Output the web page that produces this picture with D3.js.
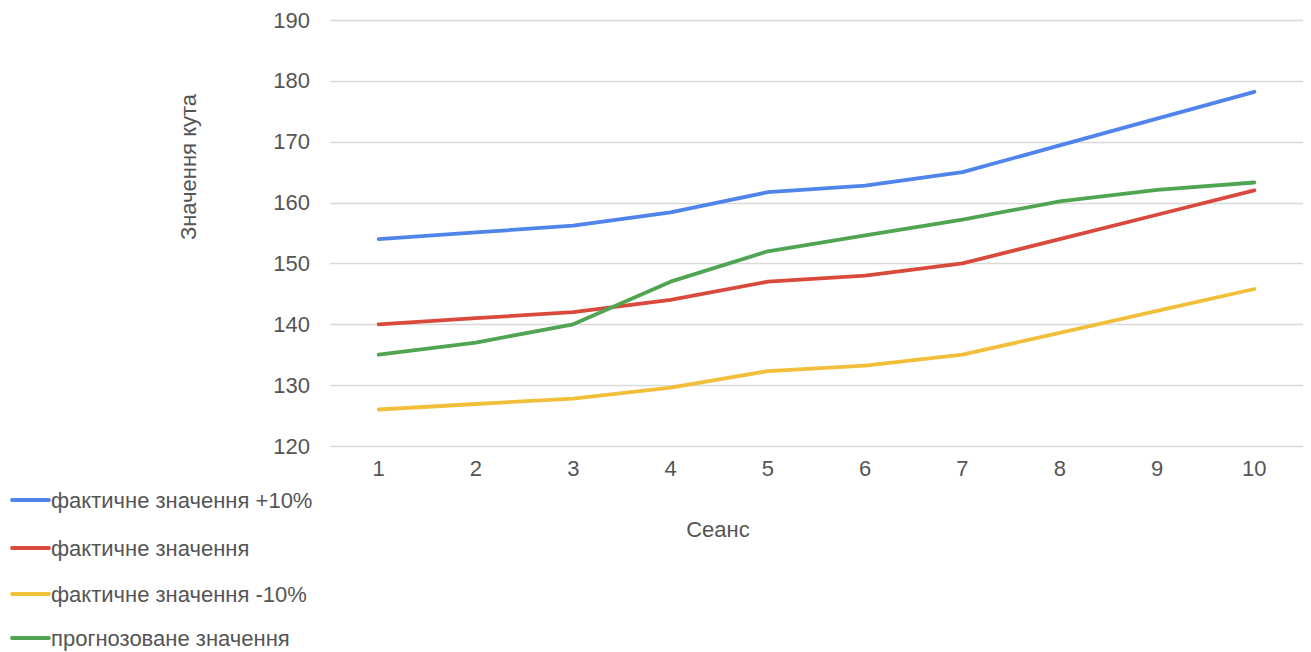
<!DOCTYPE html>
<html>
<head>
<meta charset="utf-8">
<script src="https://cdn.jsdelivr.net/npm/d3@7"></script>
<style>
  html, body { margin: 0; padding: 0; background: #fff; }
  svg { display: block; font-family: "Liberation Sans", Arial, sans-serif; }
</style>
</head>
<body>
<svg id="chart" width="1311" height="652"></svg>
<script>
// Sessions (x categories)
const sessions = [1, 2, 3, 4, 5, 6, 7, 8, 9, 10];

// Angle values per session
const actualPlus10 = [154, 155.1, 156.2, 158.4, 161.7, 162.8, 165, 169.4, 173.8, 178.2];
const actual       = [140, 141, 142, 144, 147, 148, 150, 154, 158, 162];
const actualMinus10 = [126, 126.9, 127.8, 129.6, 132.3, 133.2, 135, 138.6, 142.2, 145.8];
const forecast     = [135, 137, 140, 147, 152, 154.6, 157.2, 160.2, 162.1, 163.3];

const seriesNames = ["фактичне значення +10%", "фактичне значення", "фактичне значення -10%", "прогнозоване значення"];
const seriesColors = ["#4f84ea", "#da4a3c", "#f2bf3b", "#50a553"];
const seriesValues = [actualPlus10, actual, actualMinus10, forecast];

const yTicks = [120, 130, 140, 150, 160, 170, 180, 190];

const svg = d3.select("#chart");
const textColor = "#555555";
const fontSize = 22;

const plot = { left: 330, right: 1303, top: 20, bottom: 446 };

const x = d3.scaleBand()
  .domain(sessions)
  .range([plot.left, plot.right]);

const y = d3.scaleLinear()
  .domain([120, 190])
  .range([plot.bottom, plot.top]);

// Horizontal gridlines
svg.append("g")
  .selectAll("line")
  .data(yTicks)
  .join("line")
  .attr("x1", plot.left)
  .attr("x2", plot.right)
  .attr("y1", d => Math.round(y(d)) + 0.5)
  .attr("y2", d => Math.round(y(d)) + 0.5)
  .attr("stroke", "#d9d9d9")
  .attr("stroke-width", 1.3);

// Y axis labels
const yAxis = d3.axisLeft(y).tickValues(yTicks).tickSize(0).tickPadding(20);
const gy = svg.append("g")
  .attr("transform", `translate(${plot.left},0)`)
  .call(yAxis);
gy.select(".domain").remove();
gy.selectAll("text")
  .attr("fill", textColor)
  .attr("font-size", fontSize)
  .attr("font-family", "Liberation Sans, Arial, sans-serif");

// X axis labels
const xAxis = d3.axisBottom(x).tickSize(0).tickPadding(14);
const gx = svg.append("g")
  .attr("transform", `translate(0,${plot.bottom})`)
  .call(xAxis);
gx.select(".domain").remove();
gx.selectAll("text")
  .attr("fill", textColor)
  .attr("font-size", fontSize)
  .attr("font-family", "Liberation Sans, Arial, sans-serif");

// Axis titles
svg.append("text")
  .attr("x", 718)
  .attr("y", 537)
  .attr("text-anchor", "middle")
  .attr("fill", textColor)
  .attr("font-size", fontSize)
  .text("Сеанс");

svg.append("text")
  .attr("transform", "translate(196,167) rotate(-90)")
  .attr("text-anchor", "middle")
  .attr("fill", textColor)
  .attr("font-size", fontSize)
  .text("Значення кута");

// Series lines
const line = d3.line()
  .x((d, i) => x(sessions[i]) + x.bandwidth() / 2)
  .y(d => y(d));

svg.append("g")
  .selectAll("path")
  .data(seriesValues)
  .join("path")
  .attr("d", d => line(d))
  .attr("fill", "none")
  .attr("stroke", (d, i) => seriesColors[i])
  .attr("stroke-width", 3.8)
  .attr("stroke-linejoin", "round")
  .attr("stroke-linecap", "round");

// Legend
const legendRows = [500, 548, 594, 638];
const legend = svg.append("g")
  .selectAll("g")
  .data(seriesNames)
  .join("g")
  .attr("transform", (d, i) => `translate(0,${legendRows[i]})`);

legend.append("line")
  .attr("x1", 12)
  .attr("x2", 49)
  .attr("y1", 0)
  .attr("y2", 0)
  .attr("stroke", (d, i) => seriesColors[i])
  .attr("stroke-width", 3.8)
  .attr("stroke-linecap", "round");

legend.append("text")
  .attr("x", 51)
  .attr("y", 0)
  .attr("dy", "0.35em")
  .attr("fill", textColor)
  .attr("font-size", fontSize)
  .text(d => d);
</script>
</body>
</html>
